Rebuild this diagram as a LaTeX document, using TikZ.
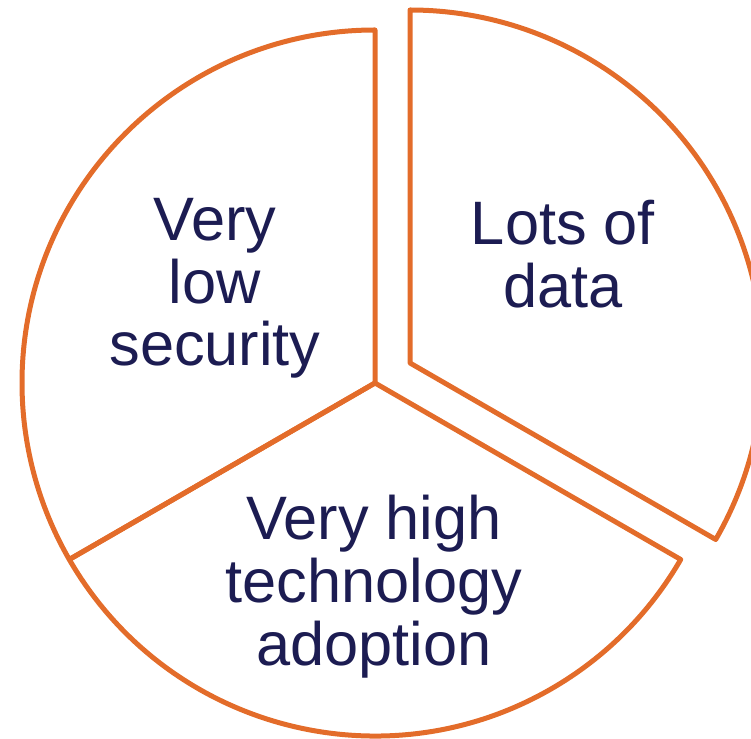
\documentclass[tikz,border=0pt]{standalone}
\usepackage{fontspec}
\setmainfont{Liberation Sans}
\definecolor{pieorange}{RGB}{227,108,42}
\definecolor{textnavy}{RGB}{28,28,82}

\begin{document}
\begin{tikzpicture}[x=0.75pt, y=0.75pt,
		sector/.style={draw=pieorange, line width=3.75pt, line join=round},
		pietext/.style={text=textnavy, align=center, inner sep=0pt, font={\fontsize{46}{47}\selectfont}}]
	\useasboundingbox (0,0) rectangle (751,739);
	\clip (0,0) rectangle (751,739);
	\coordinate (c) at (375,356);
	\coordinate (e) at (410,376);
	% the three slices, the data slice pulled out
	\draw[sector] (c) -- ++(90:353) arc[start angle=90, end angle=210, radius=353] -- cycle;
	\draw[sector] (c) -- ++(210:353) arc[start angle=210, end angle=330, radius=353] -- cycle;
	\draw[sector] (e) -- ++(-30:353) arc[start angle=-30, end angle=90, radius=353] -- cycle;
	\node[pietext] (security) at (215,450.5) {Very\\low\\security};
	\node[pietext] (data) at (563,485) {Lots of\\data};
	\node[pietext] (adoption) at (374,152.5) {Very high\\technology\\adoption};
\end{tikzpicture}
\end{document}
